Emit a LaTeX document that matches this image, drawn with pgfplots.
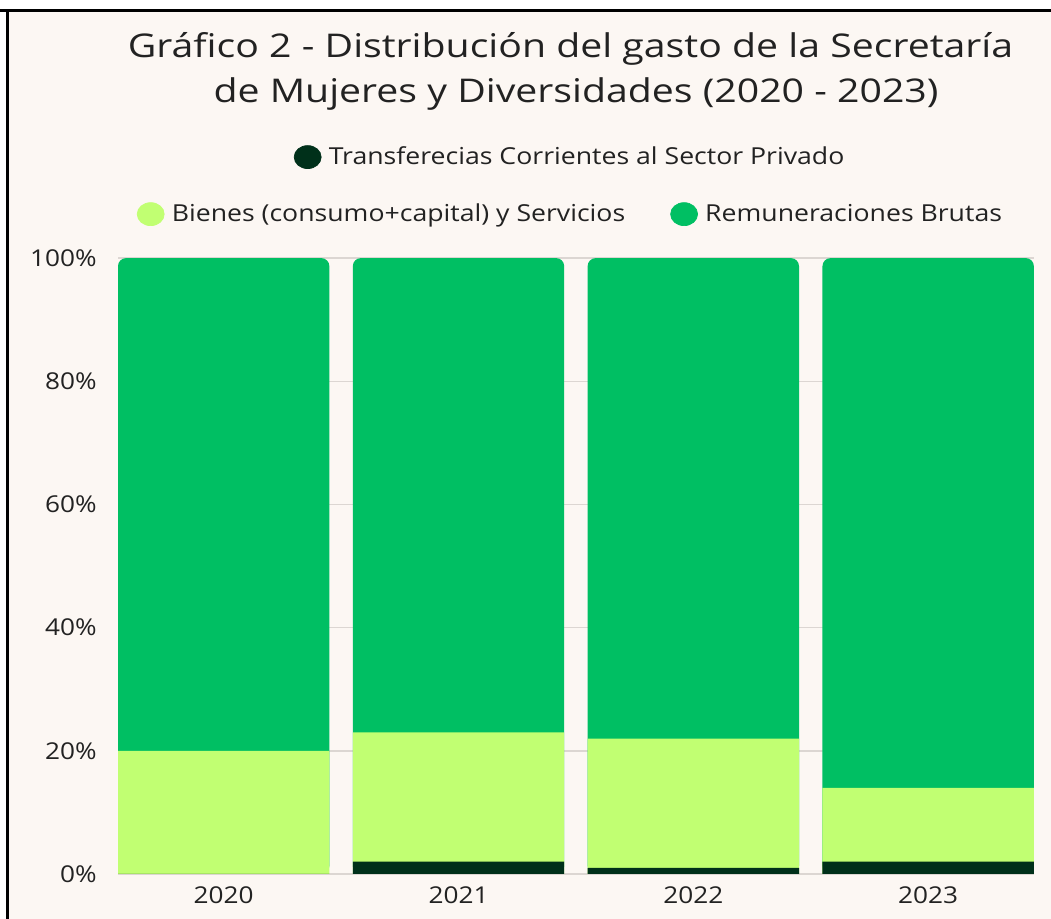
\documentclass[border=0pt]{standalone}
\usepackage{fontspec}
\setmainfont{Open Sans}
\newfontfamily\titlefont{Open Sans}[FakeStretch=1.2]
\newfontfamily\legfont{Open Sans}[FakeStretch=1.14]
\newfontfamily\tickfont{Open Sans}[FakeStretch=1.13]
\usepackage{pgfplots}
\usepackage{pgfplotstable}
\pgfplotsset{compat=1.18}

\definecolor{cT}{HTML}{00301A}
\definecolor{cB}{HTML}{C1FF72}
\definecolor{cR}{HTML}{00BF63}
\definecolor{bg}{HTML}{FCF7F3}
\definecolor{gridc}{HTML}{DCD6D2}
\definecolor{txt}{HTML}{222222}

% x: 0..3 = 2020..2023 ; t = transferencias, b = bienes, r = remuneraciones (%)
\pgfplotstableread{
x t  b  r
0 0  20 80
1 2  21 77
2 1  21 78
3 2  12 86
}\gasto

\begin{document}
\begin{tikzpicture}[x=0.02cm,y=0.02cm]
\useasboundingbox (0,0) rectangle (1051,919);
\fill[white] (0,0) rectangle (1051,919);
\fill[bg] (7.5,0) rectangle (1051,908.5);
\draw[black,line width=0.05cm] (0,908.5) -- (1051,908.5);
\draw[black,line width=0.05cm] (7.5,0) -- (7.5,908.5);
\coordinate (ax) at (118,45);

\node[anchor=base,font=\titlefont\fontsize{18.6pt}{22pt}\selectfont,text=txt,inner sep=0pt]
  at (570.5,861) {Gráfico 2 - Distribución del gasto de la Secretaría};
\node[anchor=base,font=\titlefont\fontsize{18.6pt}{22pt}\selectfont,text=txt,inner sep=0pt]
  at (576,816) {de Mujeres y Diversidades (2020 - 2023)};

\begin{axis}[
  at={(ax)}, anchor=south west,
  scale only axis, width=18.32cm, height=12.32cm,
  xmin=-0.45, xmax=3.45, ymin=0, ymax=100,
  axis line style={draw=none},
  major tick length=0pt,
  xtick={0,1,2,3},
  xticklabels={2020,2021,2022,2023},
  ytick={0,20,40,60,80,100},
  yticklabels={0\%,20\%,40\%,60\%,80\%,100\%},
  ymajorgrids, grid style={gridc,line width=0.03cm},
  tick label style={font=\tickfont\fontsize{13.2pt}{15pt}\selectfont,text=txt,inner sep=0pt},
  yticklabel style={anchor=east,xshift=-0.42cm},
  xticklabel style={anchor=north,yshift=-0.24cm},
  ybar, bar width=0.9, bar shift=0pt,
  clip=false,
  legend style={at={(0.0202,1.0714)},anchor=west,draw=none,fill=none,inner sep=0pt,
    font=\legfont\fontsize{13.3pt}{15pt}\selectfont,text=txt,legend columns=2,
    /tikz/every even column/.append style={column sep=0.83cm},
    /tikz/every odd column/.append style={column sep=0.075cm}},
]
\addplot[fill=cR,draw=none,rounded corners=0.16cm,forget plot]
  table[x=x,y expr=\thisrow{t}+\thisrow{b}+\thisrow{r}]{\gasto};
\addplot[fill=cB,draw=none,forget plot]
  table[x=x,y expr=\thisrow{t}+\thisrow{b}]{\gasto};
\addplot[fill=cT,draw=none,forget plot]
  table[x=x,y=t]{\gasto};
\addlegendimage{legend image code/.code={\fill[cB] (0.27cm,0) ellipse[x radius=0.27cm,y radius=0.23cm];}}
\addlegendentry{Bienes (consumo+capital) y Servicios}
\addlegendimage{legend image code/.code={\fill[cR] (0.27cm,0) ellipse[x radius=0.27cm,y radius=0.23cm];}}
\addlegendentry{Remuneraciones Brutas}
\end{axis}

\begin{axis}[
  at={(ax)}, anchor=south west,
  scale only axis, width=18.32cm, height=12.32cm,
  xmin=0, xmax=1, ymin=0, ymax=1, hide axis,
  legend style={at={(0.1916,1.164)},anchor=west,draw=none,fill=none,inner sep=0pt,
    font=\legfont\fontsize{13.3pt}{15pt}\selectfont,text=txt,
    /tikz/every odd column/.append style={column sep=0.075cm}},
]
\addlegendimage{legend image code/.code={\fill[cT] (0.27cm,0) ellipse[x radius=0.27cm,y radius=0.23cm];}}
\addlegendentry{Transferecias Corrientes al Sector Privado}
\end{axis}
\end{tikzpicture}
\end{document}
